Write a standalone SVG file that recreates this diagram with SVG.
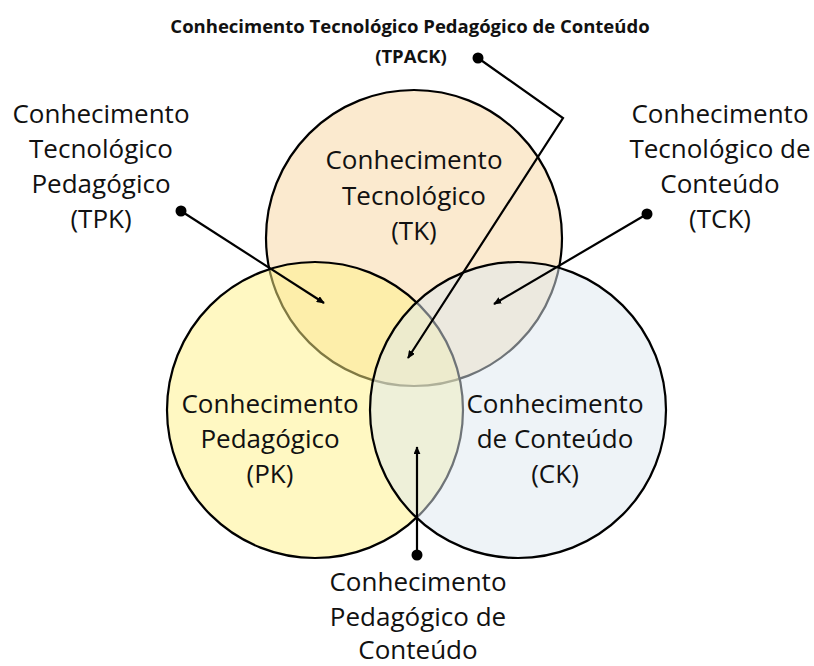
<svg xmlns="http://www.w3.org/2000/svg" width="814" height="666" viewBox="0 0 814 666">
<defs>
<style>
.c{stroke:#000;stroke-width:2.2;fill-opacity:0.5}
.t{font-family:"Open Sans","Liberation Sans",sans-serif;font-size:26px;fill:#111;text-anchor:middle}
.ttl{font-family:"Open Sans","Liberation Sans",sans-serif;font-size:18.5px;font-weight:bold;fill:#111;text-anchor:middle}
.a{stroke:#000;stroke-width:2.2;fill:none;marker-end:url(#ah)}
.d{fill:#000}
</style>
<marker id="ah" viewBox="0 0 10 10" refX="9" refY="5" markerWidth="8" markerHeight="7" markerUnits="userSpaceOnUse" orient="auto" preserveAspectRatio="none">
<path d="M0,0 L10,5 L0,10 Z" fill="#000"/>
</marker>
</defs>
<rect width="814" height="666" fill="#fff"/>
<g id="tk">
<circle class="c" cx="414" cy="238" r="148" fill="#F8D59F" fill-opacity="0.55"/>
<text class="t" x="414" y="169">Conhecimento</text>
<text class="t" x="414" y="205">Tecnológico</text>
<text class="t" x="414" y="240">(TK)</text>
</g>
<g id="pk">
<circle class="c" cx="315" cy="410" r="148" fill="#FFF285" fill-opacity="0.45"/>
<text class="t" x="270" y="413">Conhecimento</text>
<text class="t" x="270" y="448">Pedagógico</text>
<text class="t" x="270" y="483">(PK)</text>
</g>
<g id="ck">
<circle class="c" cx="518" cy="410" r="148" fill="#DDE7F0"/>
<text class="t" x="555" y="413">Conhecimento</text>
<text class="t" x="555" y="448">de Conteúdo</text>
<text class="t" x="555" y="483">(CK)</text>
</g>
<g id="tpk">
<text class="t" x="101" y="123">Conhecimento</text>
<text class="t" x="101" y="158">Tecnológico</text>
<text class="t" x="101" y="193">Pedagógico</text>
<text class="t" x="101" y="228">(TPK)</text>
</g>
<g id="tck">
<text class="t" x="720" y="123">Conhecimento</text>
<text class="t" x="720" y="158">Tecnológico de</text>
<text class="t" x="720" y="193">Conteúdo</text>
<text class="t" x="720" y="228">(TCK)</text>
</g>
<g id="tpack">
<text class="ttl" x="410" y="33">Conhecimento Tecnológico Pedagógico de Conteúdo</text>
<text class="ttl" x="411" y="63">(TPACK)</text>
</g>
<g id="pck">
<text class="t" x="418" y="591">Conhecimento</text>
<text class="t" x="418" y="626">Pedagógico de</text>
<text class="t" x="418" y="659">Conteúdo</text>
</g>
<g id="connectors">
<circle class="d" cx="181" cy="211" r="5.5"/>
<line class="a" x1="181" y1="211" x2="324" y2="303"/>
<circle class="d" cx="647" cy="214" r="5.5"/>
<line class="a" x1="647" y1="214" x2="494" y2="304"/>
<circle class="d" cx="478" cy="58" r="5.5"/>
<polyline class="a" points="478,58 563,118 408,358"/>
<circle class="d" cx="417" cy="555" r="5.5"/>
<line class="a" x1="417" y1="555" x2="417" y2="447"/>
</g>
</svg>
